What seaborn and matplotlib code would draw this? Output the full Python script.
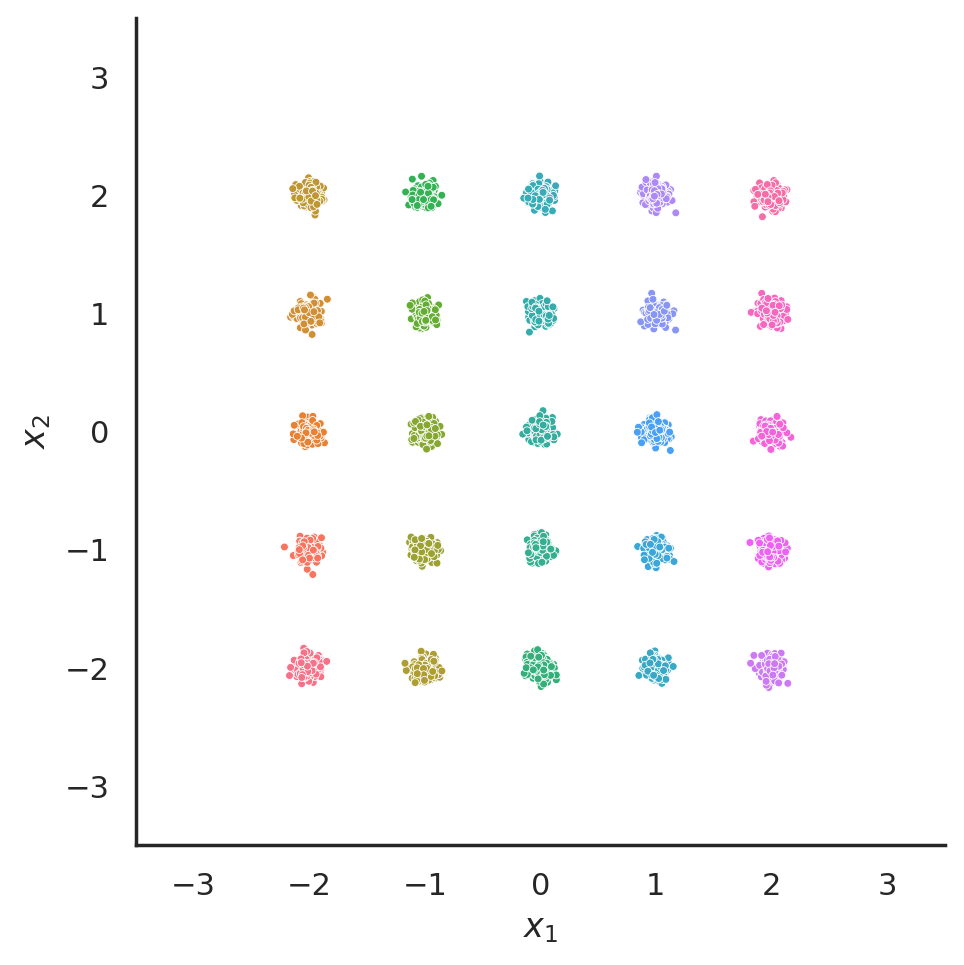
import numpy as np
import pandas as pd
import matplotlib
matplotlib.use("Agg")
import matplotlib.pyplot as plt
import seaborn as sns

# Cluster centres (5x5 grid)
x_centers = [-2, -1, 0, 1, 2]
y_centers = [-2, -1, 0, 1, 2]
points_per_cluster = 150
cluster_std = 0.055
tick_values = [-3, -2, -1, 0, 1, 2, 3]

rng = np.random.default_rng(0)
rows = []
k = 0
for cx in x_centers:
    for cy in y_centers:
        pts = rng.normal([cx, cy], cluster_std, size=(points_per_cluster, 2))
        for px, py in pts:
            rows.append((px, py, k))
        k += 1
df = pd.DataFrame(rows, columns=["x1", "x2", "cluster"])

sns.set_theme(style="white", context="notebook")
fig = plt.figure(figsize=(4.82, 4.825), dpi=200)
ax = fig.add_axes([0.141, 0.124, 0.839, 0.857])
sns.scatterplot(data=df, x="x1", y="x2", hue="cluster",
                palette=sns.color_palette("husl", 25), s=8,
                linewidth=0.3, edgecolor="white", legend=False, ax=ax)
ax.set_xlim(-3.5, 3.5)
ax.set_ylim(-3.5, 3.5)
ax.set_xticks(tick_values)
ax.set_yticks(tick_values)
ax.set_xlabel(r"$x_1$")
ax.set_ylabel(r"$x_2$")
sns.despine(ax=ax)
fig.savefig("out.png", dpi=200)
